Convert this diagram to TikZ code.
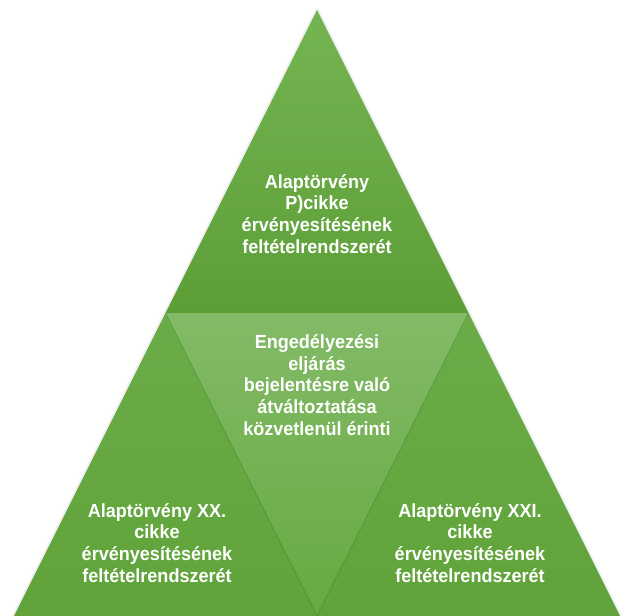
\documentclass[tikz,border=0pt]{standalone}
\usepackage{fontspec}
\setmainfont[FakeStretch=0.95]{Liberation Sans}
\definecolor{gtopA}{HTML}{74B553}
\definecolor{gtopB}{HTML}{5C9E36}
\definecolor{gmidA}{HTML}{83BA67}
\definecolor{gmidB}{HTML}{65AA40}
\definecolor{gsideA}{HTML}{6AAD48}
\definecolor{gsideB}{HTML}{60A33A}
\tikzset{
  label/.style={text=white, font=\bfseries\fontsize{19}{21.8}\selectfont, align=center},
  edge/.style={draw=black!60!green, opacity=0.35, line width=0.8pt}
}
\begin{document}
\begin{tikzpicture}[x=1pt,y=-1pt]
\useasboundingbox (0,0) rectangle (622,616);

\coordinate (apex) at (317,10);
\coordinate (midL) at (165.5,313);
\coordinate (midR) at (468.5,313);
\coordinate (baseL) at (14,616);
\coordinate (baseM) at (317,616);
\coordinate (baseR) at (620,616);

% soft shadow round the big triangle
\draw[black, opacity=0.06, line width=4pt, line join=round] (apex) -- (baseL) -- (baseR) -- cycle;

\shade[top color=gtopA, bottom color=gtopB] (apex) -- (midL) -- (midR) -- cycle;
\shade[top color=gsideA, bottom color=gsideB] (midL) -- (baseL) -- (baseM) -- cycle;
\shade[top color=gsideA, bottom color=gsideB] (midR) -- (baseM) -- (baseR) -- cycle;
\shade[top color=gmidA, bottom color=gmidB] (midL) -- (midR) -- (baseM) -- cycle;

\draw[edge] (midL) -- (baseM) -- (midR);

\node[label] (top) at (317,214) {Alaptörvény\\P)cikke\\érvényesítésének\\feltételrendszerét};
\node[label] (mid) at (317,385) {Engedélyezési\\eljárás\\bejelentésre való\\átváltoztatása\\közvetlenül érinti};
\node[label] (left) at (157,543) {Alaptörvény XX.\\cikke\\érvényesítésének\\feltételrendszerét};
\node[label] (right) at (470,543) {Alaptörvény XXI.\\cikke\\érvényesítésének\\feltételrendszerét};
\end{tikzpicture}
\end{document}
